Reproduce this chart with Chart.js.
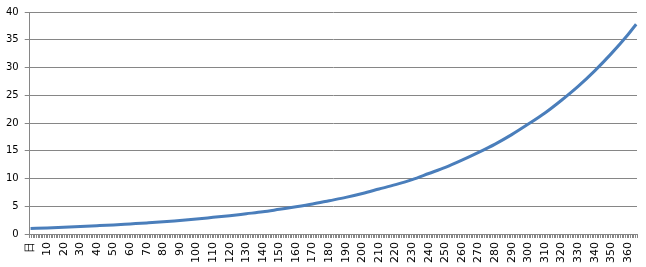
<!DOCTYPE html>
<html>
<head>
<meta charset="utf-8">
<script src="https://cdn.jsdelivr.net/npm/chart.js@4.4.1/dist/chart.umd.min.js"></script>
<style>
  body { margin: 0; background: #fff; }
  #caja { width: 646px; height: 267px; }
</style>
</head>
<body>
<div id="caja"><canvas id="grafico"></canvas></div>
<script>
// Etiquetas de categoría: "日" y luego los días 1..365
const dias = ['日'].concat(Array.from({ length: 365 }, (_, i) => String(i + 1)));

// Valores, cada 10 días (y el último día)
const diasMuestra = ['日', '10', '20', '30', '40', '50', '60', '70', '80', '90',
    '100', '110', '120', '130', '140', '150', '160', '170', '180', '190',
    '200', '210', '220', '230', '240', '250', '260', '270', '280', '290',
    '300', '310', '320', '330', '340', '350', '360', '365'];
const valores = [1.0, 1.1, 1.22, 1.35, 1.49, 1.64, 1.82, 2.0, 2.2, 2.45,
    2.7, 3.0, 3.3, 3.65, 4.0, 4.45, 4.9, 5.4, 6.0, 6.6,
    7.3, 8.1, 8.9, 9.8, 10.9, 12.0, 13.3, 14.7, 16.2, 17.9,
    19.8, 21.8, 24.1, 26.6, 29.4, 32.5, 35.9, 37.8];

const ticksY = [0, 5, 10, 15, 20, 25, 30, 35, 40];

const gris = '#868686';
const fuente = { family: 'DejaVu Sans', size: 10 };

const ctx = document.getElementById('grafico').getContext('2d');
new Chart(ctx, {
    type: 'line',
    data: {
        labels: dias,
        datasets: [{
            data: diasMuestra.map((d, i) => ({ x: d, y: valores[i] })),
            borderColor: '#4a7ebb',
            borderWidth: 3,
            pointRadius: 0,
            cubicInterpolationMode: 'monotone',
            fill: false
        }]
    },
    options: {
        responsive: true,
        maintainAspectRatio: false,
        animation: false,
        layout: { padding: { top: 5, right: 0, left: 0, bottom: 0 } },
        plugins: { legend: { display: false }, tooltip: { enabled: false } },
        scales: {
            x: {
                type: 'category',
                offset: true,
                afterFit: (eje) => { eje.paddingRight = 9; },
                grid: {
                    offset: true,
                    drawOnChartArea: false,
                    color: gris,
                    tickLength: 4
                },
                border: { color: gris },
                ticks: {
                    autoSkip: false,
                    minRotation: 90,
                    maxRotation: 90,
                    padding: 4,
                    color: '#000',
                    font: { family: 'DejaVu Sans', size: 11 },
                    callback: (v, i) => (i % 10 === 0 ? dias[i] : '')
                }
            },
            y: {
                min: 0,
                max: 40,
                afterBuildTicks: (eje) => { eje.ticks = ticksY.map(v => ({ value: v })); },
                grid: { color: gris, tickLength: 5 },
                border: { color: gris },
                ticks: { color: '#000', font: fuente, padding: 6 }
            }
        }
    }
});
</script>
</body>
</html>
